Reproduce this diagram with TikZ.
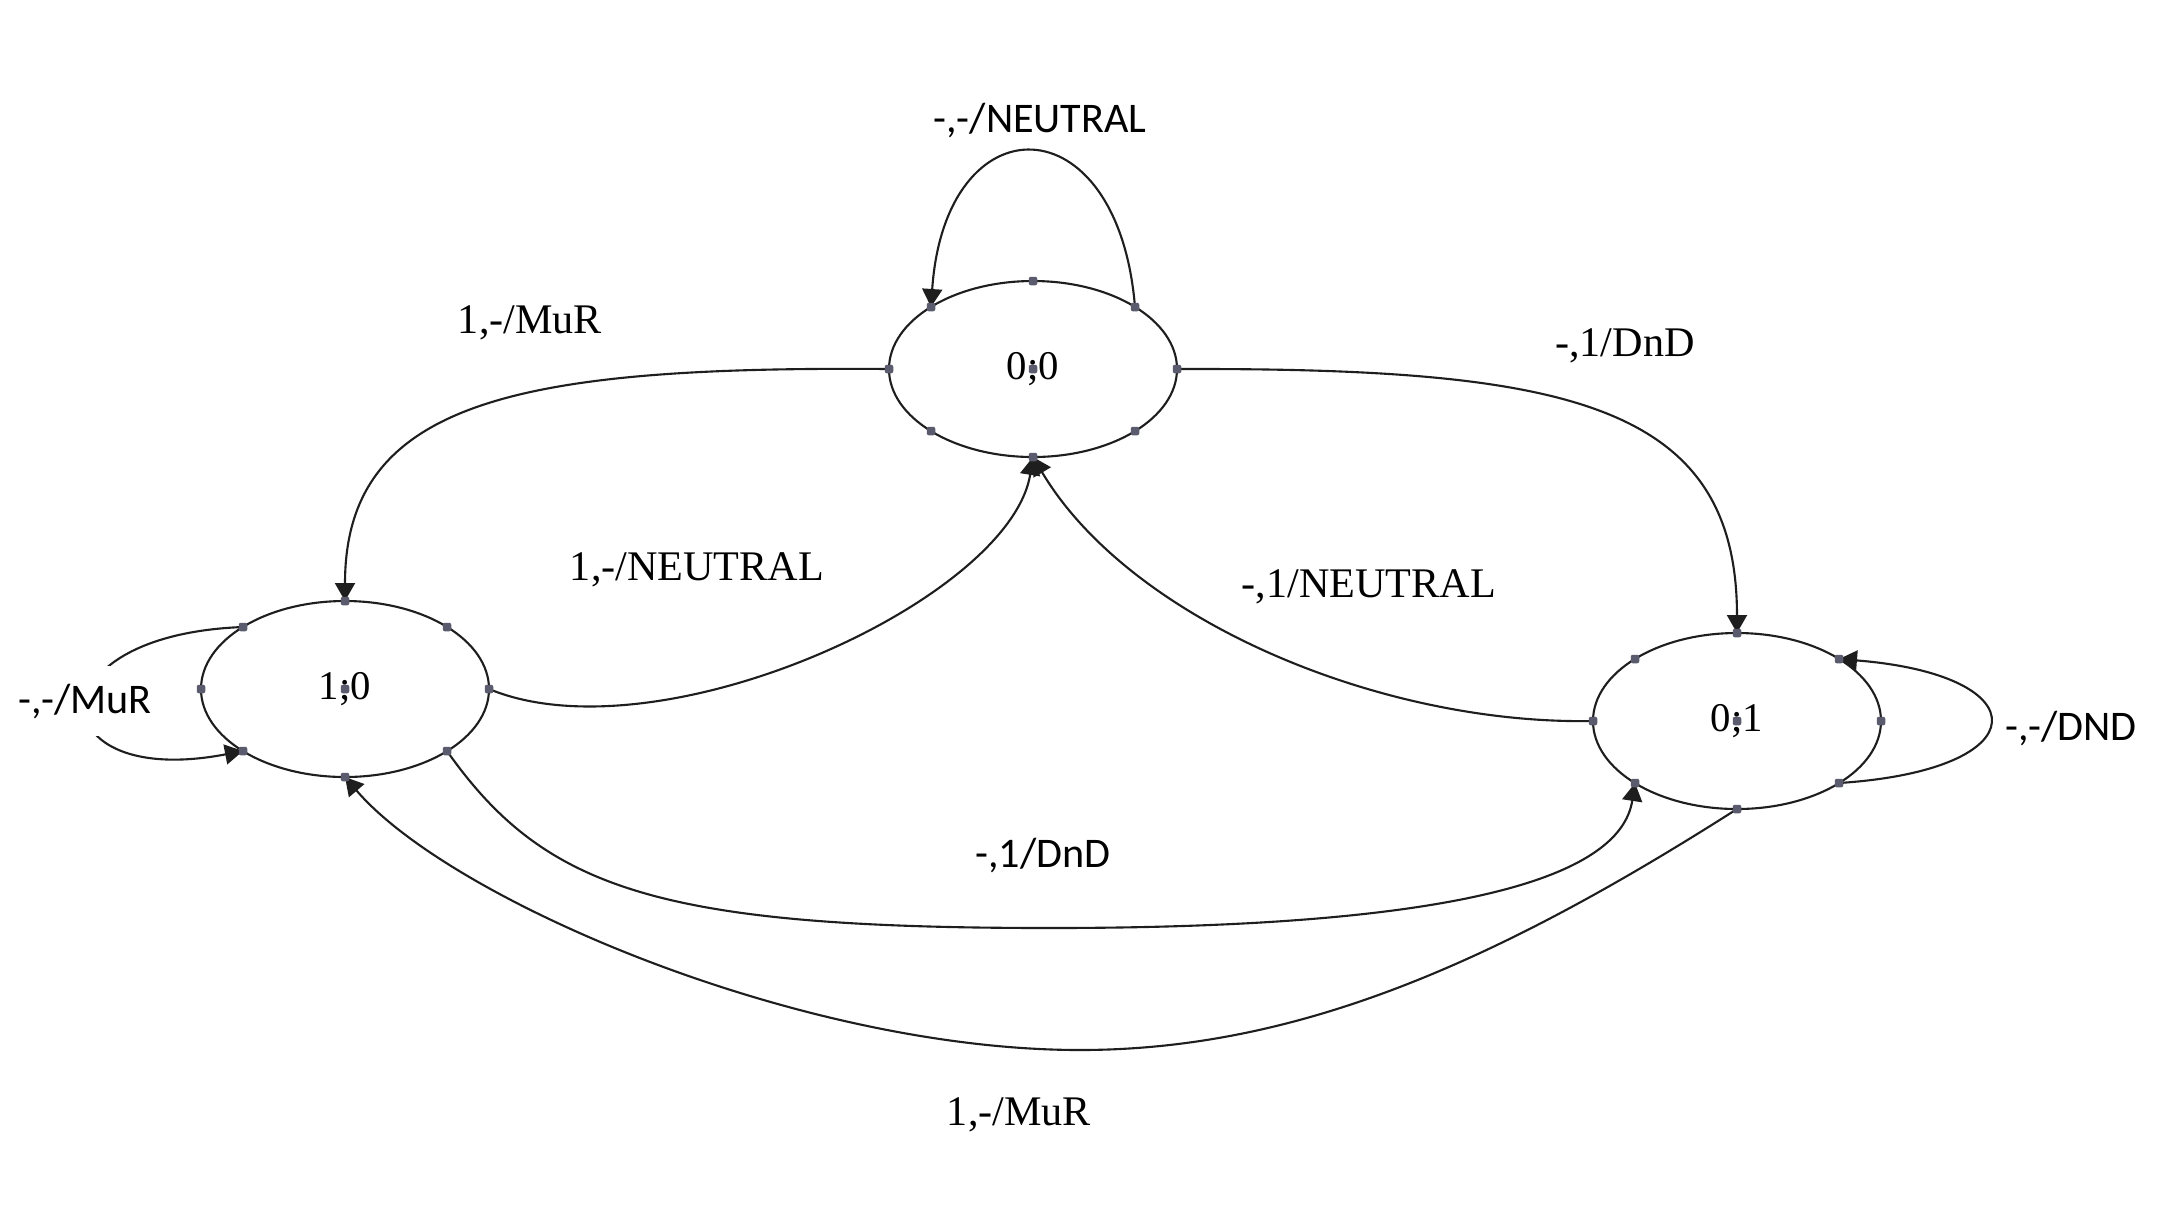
\documentclass[tikz,border=0pt]{standalone}
\usepackage{fontspec}
\setmainfont{Liberation Serif}
\newfontfamily\calib{Carlito}
\usetikzlibrary{arrows.meta,shapes.geometric,calc}
\definecolor{linec}{RGB}{30,30,30}
\definecolor{dotc}{RGB}{90,91,108}
\newcommand\mkports[1]{%
  \coordinate (#1-n)  at ($(#1)+(0,-88)$);
  \coordinate (#1-s)  at ($(#1)+(0,88)$);
  \coordinate (#1-e)  at ($(#1)+(144,0)$);
  \coordinate (#1-w)  at ($(#1)+(-144,0)$);
  \coordinate (#1-ne) at ($(#1)+(102,-62)$);
  \coordinate (#1-nw) at ($(#1)+(-102,-62)$);
  \coordinate (#1-se) at ($(#1)+(102,62)$);
  \coordinate (#1-sw) at ($(#1)+(-102,62)$);
}
\newcommand\mkdots[1]{%
  \foreach \p in {n,ne,e,se,s,sw,w,nw} {\node[portdot] at (#1-\p) {};}
  \node[portdot] at (#1) {};
}
\begin{document}
\begin{tikzpicture}[x=0.1mm,y=-0.1mm,
  state/.style={draw=linec, line width=0.6pt, ellipse, minimum width=28.8mm,
    minimum height=17.6mm, inner sep=0pt, font=\fontsize{11.6}{13}\selectfont},
  conn/.style={draw=linec, line width=0.6pt},
  arr/.style={-{Triangle[length=1.8mm,width=2mm]}},
  lbls/.style={font=\fontsize{12}{14}\selectfont, inner sep=0pt, anchor=base},
  lblc/.style={font=\calib\fontsize{12}{14}\selectfont, inner sep=0pt, anchor=base},
  portdot/.style={fill=dotc, rectangle, minimum size=0.85mm, inner sep=0pt, rounded corners=0.2mm}]
\useasboundingbox (0,0) rectangle (2176,1210);
\fill[white] (0,0) rectangle (2176,1210);

% states
\node[state] (A) at (1033,369) {0;0};
\node[state] (B) at (345,689) {1;0};
\node[state] (C) at (1737,721) {0;1};
\mkports{A}\mkports{B}\mkports{C}

% connectors
\draw[conn,arr] (A-ne) .. controls (1118,100) and (945,100) .. (A-nw);
\draw[conn,arr] (A-w) .. controls (520,366) and (345,400) .. (B-n);
\draw[conn,arr] (A-e) .. controls (1560,368) and (1737,400) .. (C-n);
\draw[conn,arr] (B-e) .. controls (660,760) and (1010,600) .. (A-s);
\draw[conn,arr] (C-w) .. controls (1380,725) and (1130,620) .. (A-s);
\coordinate (bot1) at (1050,928);
\draw[conn,arr] (B-se) .. controls (545,890) and (660,928) .. (bot1)
   .. controls (1450,928) and (1620,880) .. (C-sw);
\coordinate (bot2) at (1080,1050);
\draw[conn,arr] (C-s) .. controls (1500,960) and (1300,1050) .. (bot2)
   .. controls (800,1050) and (450,900) .. (B-s);
\draw[conn,arr] (B-nw) .. controls (30,635) and (40,790) .. (B-sw);
\draw[conn,arr] (C-se) .. controls (2040,770) and (2040,675) .. (C-ne);

% labels
\node[lblc] (l1) at (1040,132) {-,-/NEUTRAL};
\node[lbls] (l2) at (530,333) {1,-/MuR};
\node[lbls] (l3) at (1625,356) {-,1/DnD};
\node[lbls] (l4) at (697,580) {1,-/NEUTRAL};
\node[lbls] (l5) at (1369,597) {-,1/NEUTRAL};
\node[lblc, fill=white, inner ysep=5pt, inner xsep=1pt] (l6) at (85,713) {-,-/MuR};
\node[lblc] (l7) at (2071,740) {-,-/DND};
\node[lblc] (l8) at (1043,867) {-,1/DnD};
\node[lbls] (l9) at (1019,1125) {1,-/MuR};

% connection dots
\mkdots{A}\mkdots{B}\mkdots{C}
\end{tikzpicture}
\end{document}
